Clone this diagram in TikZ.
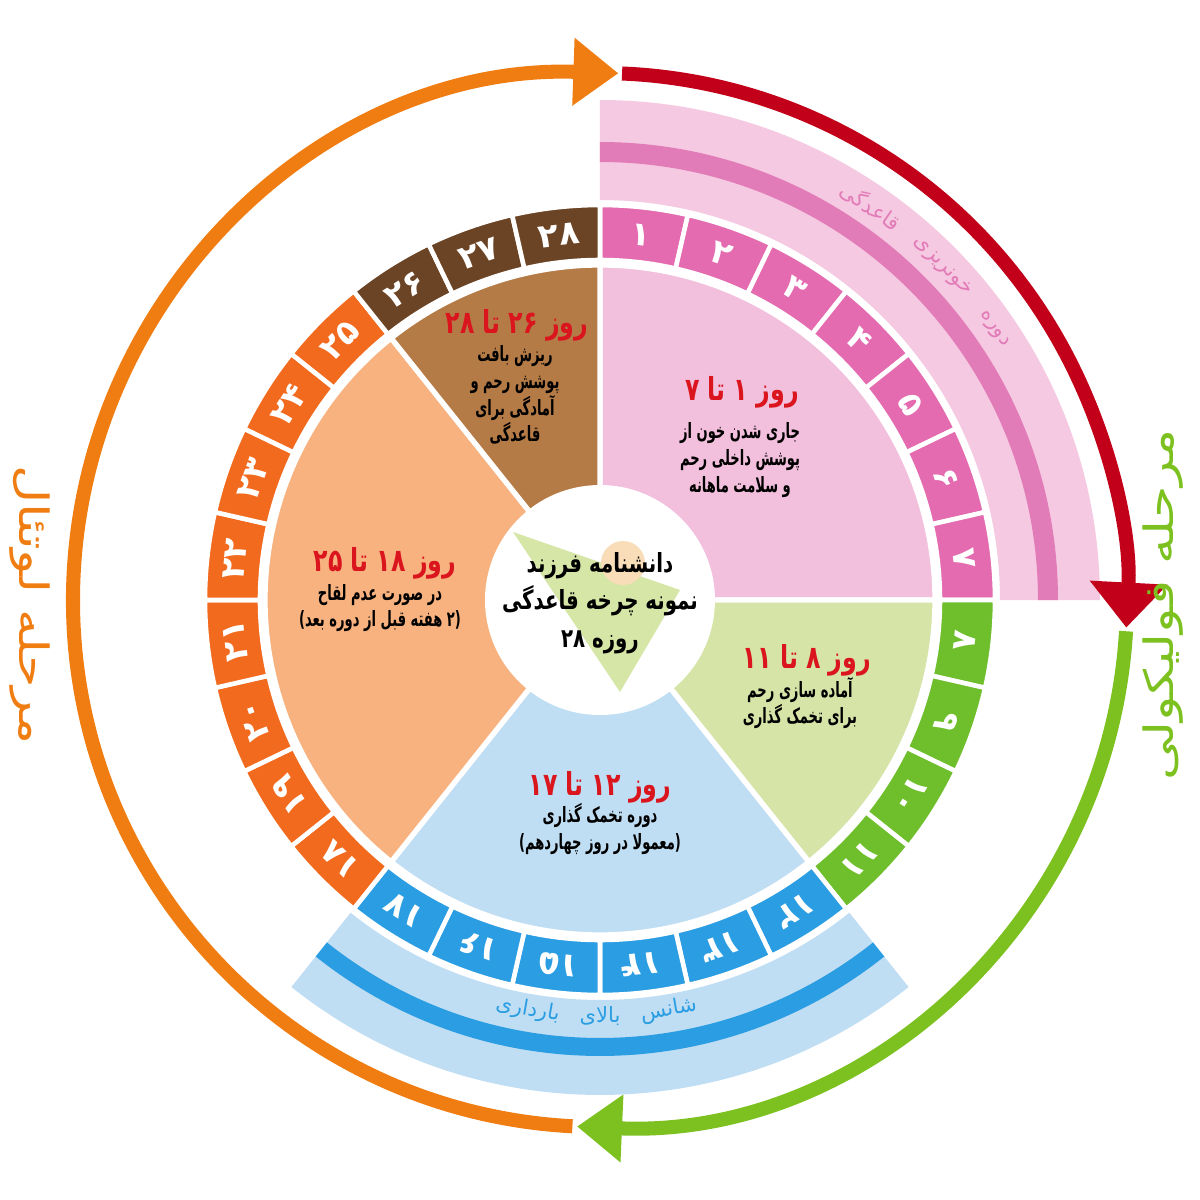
\documentclass[tikz,border=0pt]{standalone}
\usepackage{fontspec}
\usepackage{tikz}
\usetikzlibrary{arrows.meta}
\newfontfamily\fa[Script=Arabic]{DejaVu Sans}
\newfontfamily\fabody[Script=Arabic,FakeStretch=0.62]{DejaVu Sans}
\newfontfamily\fahead[Script=Arabic,FakeStretch=0.75]{DejaVu Sans}
\newfontfamily\faside[Script=Arabic,FakeStretch=1.3]{DejaVu Sans}
\TeXXeTstate=1

\definecolor{pinkbox}{HTML}{E46BB0}
\definecolor{pinksec}{HTML}{F2BFDC}
\definecolor{pinkband}{HTML}{F5C9E1}
\definecolor{pinkstripe}{HTML}{E27CB8}
\definecolor{greenbox}{HTML}{6FBE2C}
\definecolor{greensec}{HTML}{D6E4A8}
\definecolor{bluebox}{HTML}{2B9DE2}
\definecolor{bluesec}{HTML}{C0DEF3}
\definecolor{orangebox}{HTML}{F26A1E}
\definecolor{orangesec}{HTML}{F8B27F}
\definecolor{brownbox}{HTML}{6B4425}
\definecolor{brownsec}{HTML}{B57B46}
\definecolor{redarc}{HTML}{C2001A}
\definecolor{greenarc}{HTML}{7CC11F}
\definecolor{orangearc}{HTML}{F07D12}
\definecolor{titlered}{HTML}{DA151E}
\definecolor{logogreen}{HTML}{D5E6A6}
\definecolor{logoorange}{HTML}{F8DDB8}

\begin{document}
\begin{tikzpicture}[
        sector/.style={draw=white,line width=1.5pt},
        daybox/.style={draw=white,line width=1.3pt},
        daynum/.style={text=white,inner sep=0pt,font=\fa\bfseries\fontsize{9.5}{10}\selectfont},
        dtitle/.style={text=titlered,inner sep=0pt,font=\fahead\bfseries\fontsize{9}{10}\selectfont},
        dbody/.style={align=center,inner sep=0pt,font=\fabody\bfseries\fontsize{6}{7.6}\selectfont},
        bandword/.style={inner sep=0pt,font=\fa\fontsize{6}{6}\selectfont},
        phase/.style={inner sep=0pt,font=\faside\fontsize{11.5}{11.5}\selectfont},
        phasearc/.style={line width=4pt,-{Triangle[length=4.5mm,width=6.5mm]}}]

    \useasboundingbox (-6,-6) rectangle (6,6);

    % bands outside the ring
    \fill[pinkband] (0:4) arc (0:90:4) -- (90:5) arc (90:0:5) -- cycle;
    \fill[pinkstripe] (0:4.38) arc (0:90:4.38) -- (90:4.58) arc (90:0:4.58) -- cycle;
    \fill[bluesec] (-128.57:4) arc (-128.57:-51.43:4) -- (-51.43:4.95) arc (-51.43:-128.57:4.95) -- cycle;
    \fill[bluebox] (-128.57:4.38) arc (-128.57:-51.43:4.38) -- (-51.43:4.56) arc (-51.43:-128.57:4.56) -- cycle;

    % phases
    \filldraw[sector,fill=pinksec] (0,0) -- (0:3.35) arc (0:90:3.35) -- cycle;
    \filldraw[sector,fill=greensec] (0,0) -- (-51.43:3.35) arc (-51.43:0:3.35) -- cycle;
    \filldraw[sector,fill=bluesec] (0,0) -- (-128.57:3.35) arc (-128.57:-51.43:3.35) -- cycle;
    \filldraw[sector,fill=orangesec] (0,0) -- (128.57:3.35) arc (128.57:231.43:3.35) -- cycle;
    \filldraw[sector,fill=brownsec] (0,0) -- (90:3.35) arc (90:128.57:3.35) -- cycle;

    % middle
    \fill[white] (0,0) circle (1.15);
    \fill[logogreen] (-0.87,0.68) -- (0.8,0.1) -- (0.2,-0.92) -- cycle;
    \fill[logoorange] (0.23,0.37) circle (0.22);
    \node[align=center,inner sep=0pt,font=\fahead\bfseries\fontsize{7.5}{10.7}\selectfont] (middle) at (0,-0.03)
        {\beginR دانشنامه فرزند\endR\\\beginR نمونه چرخه قاعدگی\endR\\\beginR روزه ۲۸\endR};

    % days
    \foreach \k/\lab/\col in {1/۱/pinkbox,2/۲/pinkbox,3/۳/pinkbox,4/۴/pinkbox,5/۵/pinkbox,6/۶/pinkbox,7/۷/pinkbox,
            8/۸/greenbox,9/۹/greenbox,10/۱۰/greenbox,11/۱۱/greenbox,
            12/۱۲/bluebox,13/۱۳/bluebox,14/۱۴/bluebox,15/۱۵/bluebox,16/۱۶/bluebox,17/۱۷/bluebox,
            18/۱۸/orangebox,19/۱۹/orangebox,20/۲۰/orangebox,21/۲۱/orangebox,22/۲۲/orangebox,23/۲۳/orangebox,24/۲۴/orangebox,25/۲۵/orangebox,
            26/۲۶/brownbox,27/۲۷/brownbox,28/۲۸/brownbox}{
        \pgfmathsetmacro\aa{90-(\k-1)*360/28}
        \pgfmathsetmacro\ab{90-\k*360/28}
        \pgfmathsetmacro\am{90-(\k-0.5)*360/28}
        \filldraw[daybox,fill=\col] (\ab:3.4) arc (\ab:\aa:3.4) -- (\aa:3.95) arc (\aa:\ab:3.95) -- cycle;
        \node[daynum,rotate=\am-90] (d\k) at (\am:3.67) {\lab};
    }

    % phase texts
    \node[dtitle] (t1) at (1.42,2.08) {\beginR روز ۱ تا ۷\endR};
    \node[dbody] (b1) at (1.4,1.4) {\beginR جاری شدن خون از\endR\\\beginR پوشش داخلی رحم\endR\\\beginR و سلامت ماهانه\endR};
    \node[dtitle] (t2) at (2.07,-0.6) {\beginR روز ۸ تا ۱۱\endR};
    \node[dbody] (b2) at (2.0,-1.03) {\beginR آماده سازی رحم\endR\\\beginR برای تخمک گذاری\endR};
    \node[dtitle] (t3) at (0,-1.87) {\beginR روز ۱۲ تا ۱۷\endR};
    \node[dbody] (b3) at (0,-2.29) {\beginR دوره تخمک گذاری\endR\\\beginR (معمولا در روز چهاردهم)\endR};
    \node[dtitle] (t4) at (-2.15,0.37) {\beginR روز ۱۸ تا ۲۵\endR};
    \node[dbody] (b4) at (-2.2,-0.08) {\beginR در صورت عدم لقاح\endR\\\beginR (۲ هفته قبل از دوره بعد)\endR};
    \node[dtitle] (t5) at (-0.83,2.75) {\beginR روز ۲۶ تا ۲۸\endR};
    \node[dbody] (b5) at (-0.85,2.05) {\beginR ریزش بافت\endR\\\beginR پوشش رحم و\endR\\\beginR آمادگی برای\endR\\\beginR قاعدگی\endR};

    % words on the bands
    \foreach \ang/\w [count=\i] in {34.5/دوره,44.3/خونریزی,55.5/قاعدگی}
        \node[bandword,text=pinkstripe,rotate=\ang-90] (pw\i) at (\ang:4.78) {\w};
    \foreach \ang/\w [count=\i] in {-80.5/شانس,-90/بالای,-100/بارداری}
        \node[bandword,text=bluebox,rotate=\ang+90] (bw\i) at (\ang:4.16) {\w};

    % cycle arrows
    \draw[phasearc,redarc,-{Triangle[length=4.5mm,width=7.5mm]}] (87.6:5.27) arc (87.6:-3:5.27);
    \draw[phasearc,greenarc] (-3.4:5.27) arc (-3.4:-92.5:5.27);
    \draw[phasearc,orangearc] (-93:5.27) arc (267:88:5.27);

    \node[phase,text=greenarc,rotate=90] (follicular) at (5.63,-0.05) {\beginR مرحله فولیکولی\endR};
    \node[phase,text=orangearc,rotate=-90] (luteal) at (-5.7,-0.05) {\beginR مرحله لوتئال\endR};
\end{tikzpicture}
\end{document}
